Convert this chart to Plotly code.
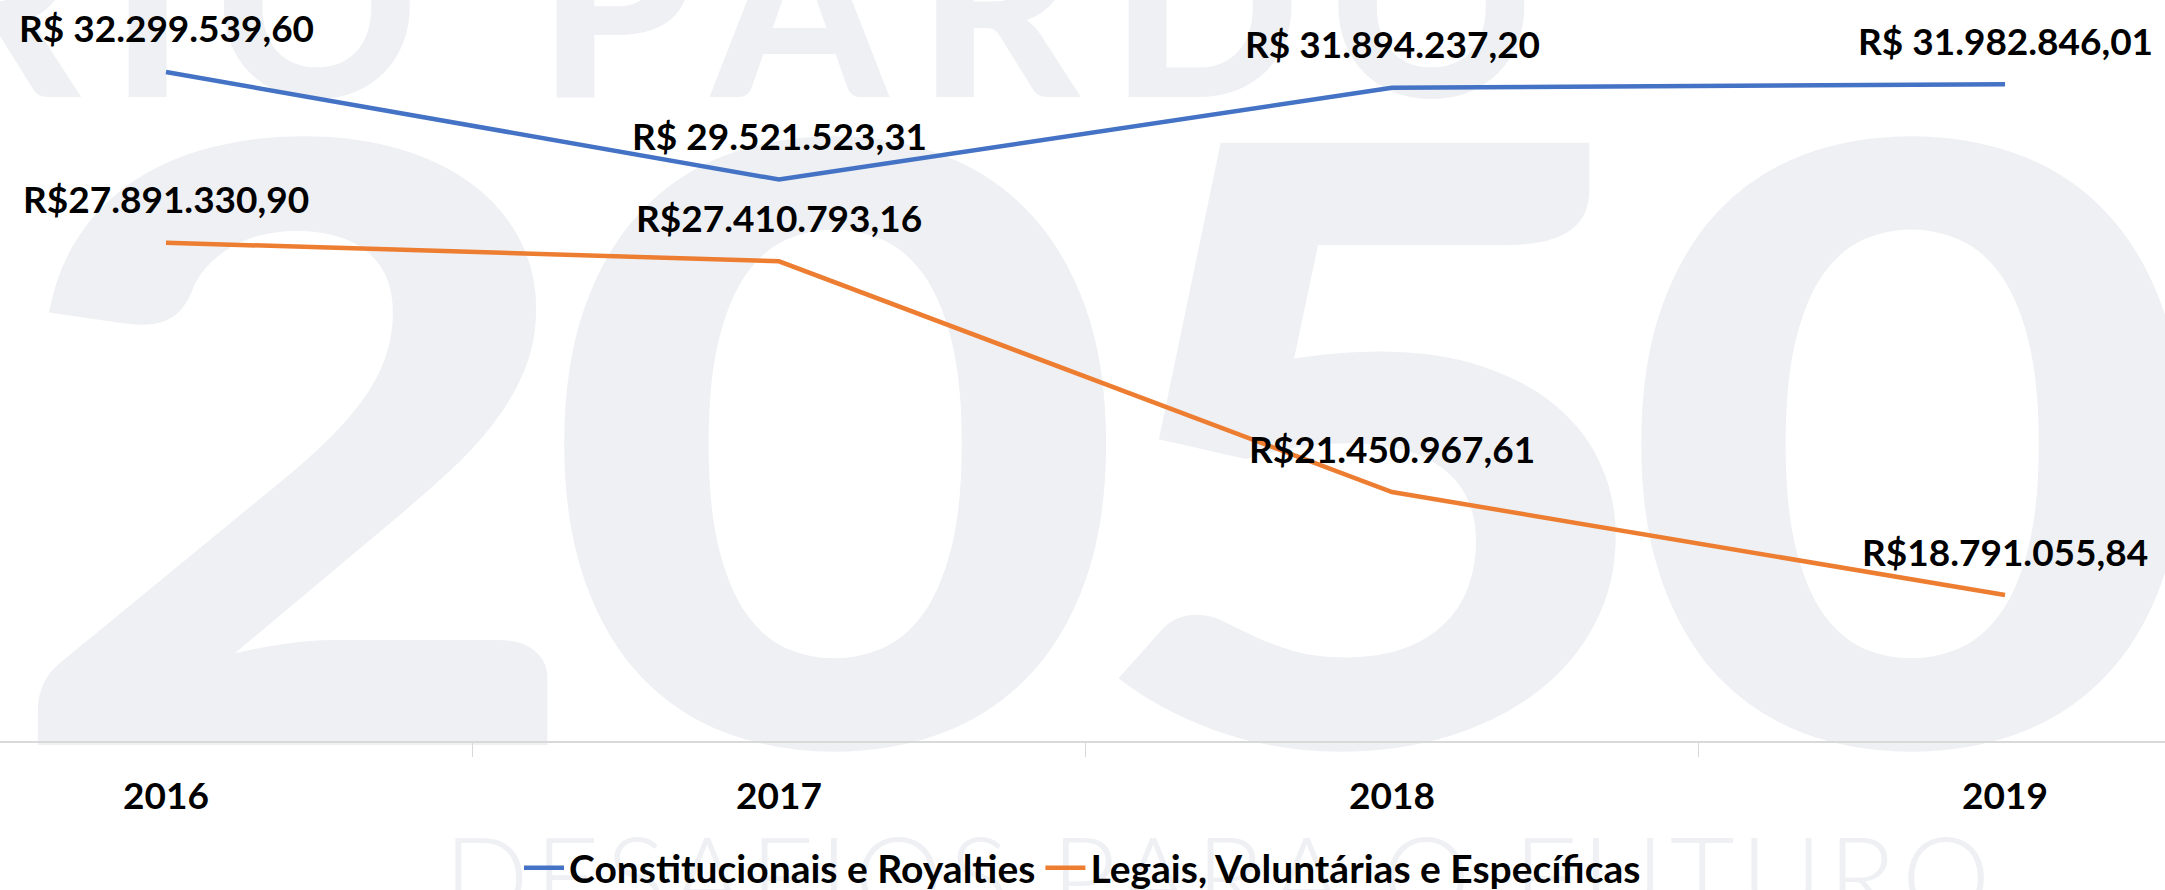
import base64
import plotly.graph_objects as go

# ---- data ----
years = ["2016", "2017", "2018", "2019"]
constitucionais = [32299539.60, 29521523.31, 31894237.20, 31982846.01]
legais = [27891330.90, 27410793.16, 21450967.61, 18791055.84]
labels_const = ["R$ 32.299.539,60", "R$ 29.521.523,31", "R$ 31.894.237,20", "R$ 31.982.846,01"]
labels_legais = ["R$27.891.330,90", "R$27.410.793,16", "R$21.450.967,61", "R$18.791.055,84"]
series_names = ["Constitucionais e Royalties", "Legais, Voluntárias e Específicas"]

W, H = 2165, 890
BLUE = "#4472C4"
ORANGE = "#ED7D31"
FONT = "Lato"
WM = "#eff0f4"

# ---- faint watermark (background decoration) ----
svg = f'''<svg xmlns="http://www.w3.org/2000/svg" width="{W}" height="{H}" viewBox="0 0 {W} {H}">
<text x="740" y="97" text-anchor="middle" font-family="Lato" font-weight="900" font-size="250" fill="{WM}" letter-spacing="30">RIO PARDO</text>
<g transform="translate(1080,0) scale(1.22,1) translate(-1080,0)">
<text x="1080" y="745" text-anchor="middle" font-family="Lato" font-weight="900" font-size="830" fill="{WM}" letter-spacing="-40">2050</text>
</g>
<text x="1220" y="918" text-anchor="middle" font-family="Lato" font-weight="300" font-size="112" fill="{WM}" letter-spacing="6">DESAFIOS PARA O FUTURO</text>
</svg>'''
svg_uri = "data:image/svg+xml;base64," + base64.b64encode(svg.encode("utf-8")).decode("ascii")

fig = go.Figure()
fig.add_trace(go.Scatter(x=years, y=constitucionais, mode="lines", name=series_names[0],
                         line=dict(color=BLUE, width=4.5), hoverinfo="skip"))
fig.add_trace(go.Scatter(x=years, y=legais, mode="lines", name=series_names[1],
                         line=dict(color=ORANGE, width=4.5), hoverinfo="skip"))

# data labels: category axis positions are category indices
for vals, labs in ((constitucionais, labels_const), (legais, labels_legais)):
    for i, (v, t) in enumerate(zip(vals, labs)):
        fig.add_annotation(x=i, y=v, xref="x", yref="y", text=t, showarrow=False, yshift=44,
                           xanchor="center", yanchor="middle",
                           font=dict(family=FONT, size=37, color="black", weight="bold"))

plot_bottom = 741
fig.update_layout(
    width=W, height=H,
    margin=dict(l=0, r=0, t=0, b=H - plot_bottom, pad=0),
    paper_bgcolor="white",
    plot_bgcolor="rgba(0,0,0,0)",
    images=[dict(source=svg_uri, xref="paper", yref="paper", x=0, y=1,
                 sizex=1, sizey=H / plot_bottom, xanchor="left", yanchor="top",
                 sizing="stretch", layer="below")],
    showlegend=True,
    legend=dict(orientation="h", x=0.5, xanchor="center", yref="container", y=22 / H,
                yanchor="middle", bgcolor="rgba(0,0,0,0)", itemwidth=40,
                font=dict(family=FONT, size=39, color="black", weight="bold")),
    xaxis=dict(type="category", range=[-0.2708, 3.261], showgrid=False, zeroline=False,
               showline=True, linecolor="#d9d9d9", linewidth=2,
               ticks="outside", tickson="boundaries", ticklen=14, tickcolor="#d9d9d9", tickwidth=1,
               ticklabelstandoff=22,
               tickfont=dict(family=FONT, size=37, color="black", weight="bold")),
    yaxis=dict(range=[15020000, 34159000], visible=False, showgrid=False, zeroline=False),
)

fig.write_html("out.html", config={"displayModeBar": False},
               post_script="document.body.style.margin='0';")
